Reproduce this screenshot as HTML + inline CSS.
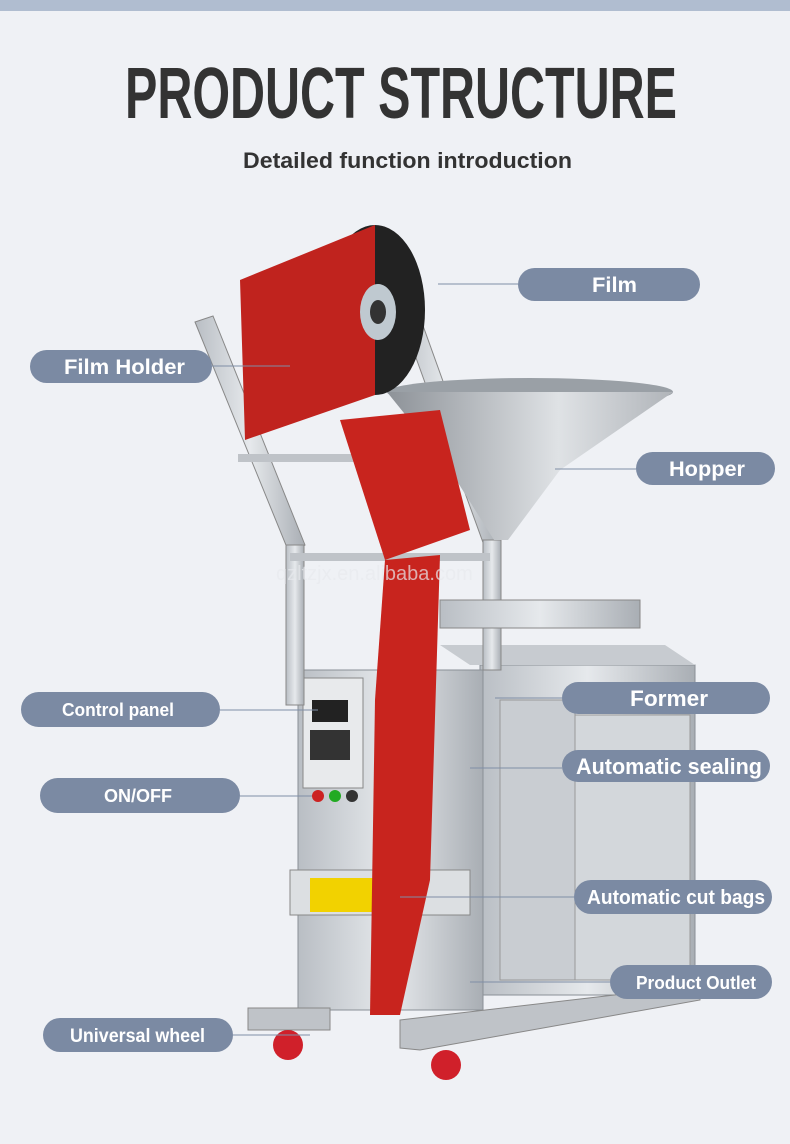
<!DOCTYPE html>
<html><head><meta charset="utf-8"><style>
html,body{margin:0;padding:0;background:#eff1f5;}
svg{display:block}
text{font-family:"Liberation Sans Narrow","Liberation Sans",sans-serif;font-weight:bold}
</style></head><body>
<svg width="790" height="1144" viewBox="0 0 790 1144" xmlns="http://www.w3.org/2000/svg">
<defs>
<linearGradient id="steel" x1="0" x2="1"><stop offset="0" stop-color="#b9bec4"/><stop offset="0.5" stop-color="#e6e9ec"/><stop offset="1" stop-color="#a9aeb4"/></linearGradient>
<linearGradient id="hop" x1="0" x2="1"><stop offset="0" stop-color="#8d9298"/><stop offset="0.6" stop-color="#dfe2e5"/><stop offset="1" stop-color="#b0b4b9"/></linearGradient>
</defs>
<rect width="790" height="1144" fill="#eff1f5"/>
<rect width="790" height="11" fill="#b0bdd0"/>
<text x="125" y="118" font-size="72" fill="#333" textLength="552" lengthAdjust="spacingAndGlyphs">PRODUCT STRUCTURE</text>
<text x="243" y="168" font-size="22" fill="#333" textLength="329" lengthAdjust="spacingAndGlyphs">Detailed function introduction</text>

<rect x="480" y="665" width="215" height="330" fill="url(#steel)" stroke="#8a9096"/>
<rect x="575" y="715" width="115" height="265" fill="#d3d7db" stroke="#999"/>
<rect x="500" y="700" width="75" height="280" fill="#c9cdd2" stroke="#999"/>
<polygon points="440,645 665,645 695,665 470,665" fill="#c7cbd0"/>
<rect x="298" y="670" width="185" height="340" fill="url(#steel)" stroke="#8a9096"/>
<rect x="303" y="678" width="60" height="110" fill="#e8eaec" stroke="#888"/>
<rect x="312" y="700" width="36" height="22" fill="#222"/>
<rect x="310" y="730" width="40" height="30" fill="#333"/>
<circle cx="318" cy="796" r="6" fill="#c22"/><circle cx="335" cy="796" r="6" fill="#2a2"/><circle cx="352" cy="796" r="6" fill="#333"/>
<polygon points="290,870 470,870 470,915 290,915" fill="#dcdfe2" stroke="#888"/>
<rect x="310" y="878" width="68" height="34" fill="#f2d200"/>
<polygon points="195,322 213,316 305,545 290,555" fill="url(#steel)" stroke="#888"/>
<polygon points="395,300 412,295 500,540 485,548" fill="url(#steel)" stroke="#888"/>
<rect x="286" y="545" width="18" height="160" fill="url(#steel)" stroke="#888"/>
<rect x="483" y="540" width="18" height="130" fill="url(#steel)" stroke="#888"/>
<rect x="238" y="454" width="220" height="8" fill="#bfc3c8"/>
<rect x="290" y="553" width="200" height="8" fill="#bfc3c8"/>
<ellipse cx="530" cy="392" rx="143" ry="14" fill="#9aa0a6"/>
<polygon points="387,392 673,392 560,470 508,540 494,540 450,470" fill="url(#hop)"/>
<rect x="440" y="600" width="200" height="28" fill="url(#steel)" stroke="#888"/>
<ellipse cx="375" cy="310" rx="50" ry="85" fill="#222"/>
<polygon points="240,280 375,225 375,395 245,440" fill="#c0231e"/>
<ellipse cx="378" cy="312" rx="18" ry="28" fill="#bfc9d0"/>
<ellipse cx="378" cy="312" rx="8" ry="12" fill="#333"/>
<polygon points="340,420 440,410 470,530 385,560" fill="#c8241e"/>
<polygon points="385,560 440,555 430,880 400,1015 370,1015 375,700" fill="#c8241e"/>
<polygon points="248,1008 330,1008 330,1030 248,1030" fill="#bfc3c8" stroke="#888"/>
<polygon points="400,1020 700,985 700,1000 420,1050 400,1048" fill="#bfc3c8" stroke="#888"/>
<circle cx="288" cy="1045" r="15" fill="#d0202a"/>
<circle cx="446" cy="1065" r="15" fill="#d0202a"/>
<text x="276" y="580" font-size="20" fill="#e8eaee" opacity="0.7" style="font-weight:normal;font-family:'Liberation Sans',sans-serif">qzltzjx.en.alibaba.com</text>

<g stroke="#7f8ea6" stroke-width="1">
<line x1="438" y1="284" x2="518" y2="284"/>
<line x1="212" y1="366" x2="290" y2="366"/>
<line x1="555" y1="469" x2="636" y2="469"/>
<line x1="220" y1="710" x2="318" y2="710"/>
<line x1="495" y1="698" x2="562" y2="698"/>
<line x1="470" y1="768" x2="562" y2="768"/>
<line x1="240" y1="796" x2="312" y2="796"/>
<line x1="400" y1="897" x2="574" y2="897"/>
<line x1="470" y1="982" x2="610" y2="982"/>
<line x1="233" y1="1035" x2="310" y2="1035"/>
</g>
<g fill="#7b8aa3">
<rect x="518" y="268" width="182" height="33" rx="16.5"/>
<rect x="30" y="350" width="182" height="33" rx="16.5"/>
<rect x="636" y="452" width="139" height="33" rx="16.5"/>
<rect x="21" y="692" width="199" height="35" rx="17.5"/>
<rect x="562" y="682" width="208" height="32" rx="16"/>
<rect x="562" y="750" width="208" height="32" rx="16"/>
<rect x="40" y="778" width="200" height="35" rx="17.5"/>
<rect x="574" y="880" width="198" height="34" rx="17"/>
<rect x="610" y="965" width="162" height="34" rx="17"/>
<rect x="43" y="1018" width="190" height="34" rx="17"/>
</g>
<g fill="#fff" lengthAdjust="spacingAndGlyphs">
<text x="592" y="292" font-size="21" textLength="45" lengthAdjust="spacingAndGlyphs">Film</text>
<text x="64" y="374" font-size="21" textLength="121" lengthAdjust="spacingAndGlyphs">Film Holder</text>
<text x="669" y="476" font-size="21" textLength="76" lengthAdjust="spacingAndGlyphs">Hopper</text>
<text x="62" y="716" font-size="18" textLength="112" lengthAdjust="spacingAndGlyphs">Control panel</text>
<text x="630" y="706" font-size="22" textLength="78" lengthAdjust="spacingAndGlyphs">Former</text>
<text x="576" y="774" font-size="22" textLength="186" lengthAdjust="spacingAndGlyphs">Automatic  sealing</text>
<text x="104" y="802" font-size="18" textLength="68" lengthAdjust="spacingAndGlyphs">ON/OFF</text>
<text x="587" y="904" font-size="20" textLength="178" lengthAdjust="spacingAndGlyphs">Automatic cut bags</text>
<text x="636" y="989" font-size="18" textLength="120" lengthAdjust="spacingAndGlyphs">Product Outlet</text>
<text x="70" y="1042" font-size="19" textLength="135" lengthAdjust="spacingAndGlyphs">Universal wheel</text>
</g>
</svg>
</body></html>
